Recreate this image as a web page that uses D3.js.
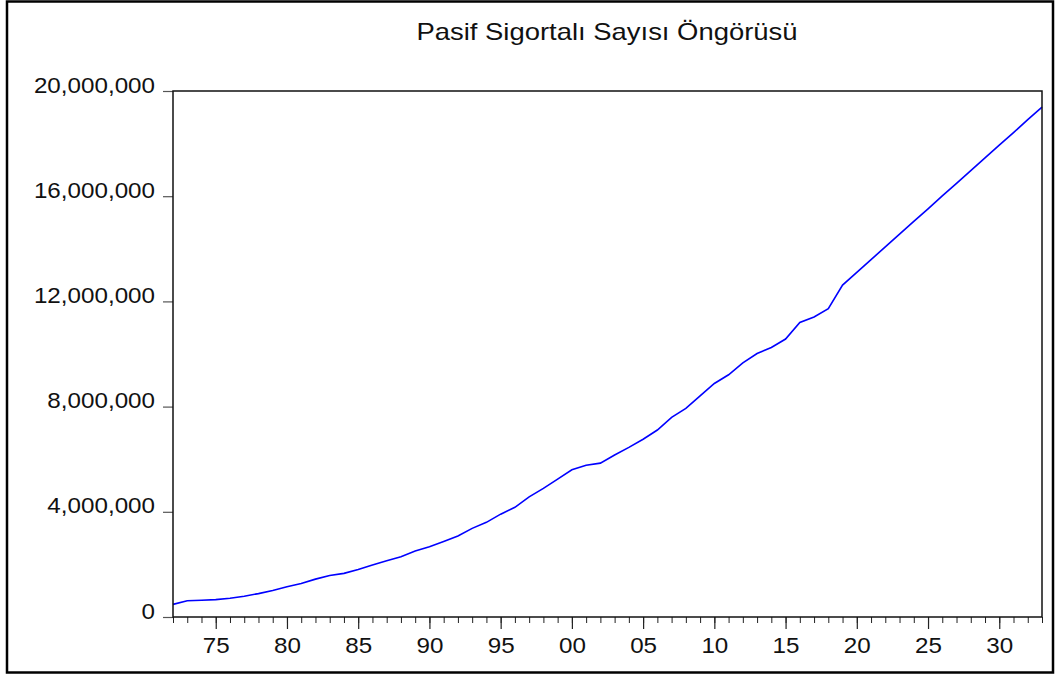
<!DOCTYPE html>
<html>
<head>
<meta charset="utf-8">
<script src="https://cdn.jsdelivr.net/npm/d3@7"></script>
<style>
  body { margin: 0; background: #fff; }
  text { font-family: "Liberation Sans", Arial, sans-serif; fill: #111; }
</style>
</head>
<body>
<div id="chart"></div>
<script>
// data (values in persons)
var years = [1972, 1973, 1974, 1975, 1976, 1977, 1978, 1979, 1980, 1981,
  1982, 1983, 1984, 1985, 1986, 1987, 1988, 1989, 1990, 1991,
  1992, 1993, 1994, 1995, 1996, 1997, 1998, 1999, 2000, 2001,
  2002, 2003, 2004, 2005, 2006, 2007, 2008, 2009, 2010, 2011,
  2012, 2013, 2014, 2015, 2016, 2017, 2018, 2019, 2020, 2021,
  2022, 2023, 2024, 2025, 2026, 2027, 2028, 2029, 2030, 2031,
  2032, 2033];
var pasif = [480000, 620000, 635000, 660000, 710000, 790000, 890000, 1010000, 1150000, 1270000,
  1440000, 1580000, 1660000, 1810000, 1980000, 2140000, 2290000, 2510000, 2670000, 2870000,
  3080000, 3370000, 3600000, 3910000, 4170000, 4570000, 4890000, 5240000, 5600000, 5770000,
  5850000, 6160000, 6450000, 6760000, 7110000, 7590000, 7930000, 8410000, 8880000, 9210000,
  9660000, 10020000, 10250000, 10570000, 11200000, 11410000, 11720000, 12620000, 13100000, 13590000,
  14070000, 14560000, 15040000, 15520000, 16010000, 16490000, 16970000, 17460000, 17940000, 18420000,
  18910000, 19390000];
var yTicks = [0, 4000000, 8000000, 12000000, 16000000, 20000000];
var majorYears = [1975, 1980, 1985, 1990, 1995, 2000, 2005, 2010, 2015, 2020, 2025, 2030];
var titleText = "Pasif Sigortalı Sayısı Öngörüsü";

// svg size
var svgWidth = 1055;
var svgHeight = 677;
var margin = { top: 91, right: 13, bottom: 60, left: 173 };
var width = svgWidth - margin.left - margin.right;
var height = svgHeight - margin.top - margin.bottom;

// text in the picture is a bit wider than Liberation Sans
var stretch = 1.1;
function widen(sel, factor) {
  sel.each(function() {
    var w = this.getComputedTextLength();
    d3.select(this)
      .attr("textLength", w * factor)
      .attr("lengthAdjust", "spacingAndGlyphs");
  });
}

var svg = d3.select("#chart")
  .append("svg")
  .attr("width", svgWidth)
  .attr("height", svgHeight);

// outer frame
svg.append("rect")
  .attr("x", 7)
  .attr("y", 1.5)
  .attr("width", 1046)
  .attr("height", 671)
  .attr("fill", "none")
  .attr("stroke", "#000")
  .attr("stroke-width", 2.5);

var chartGroup = svg.append("g")
  .attr("transform", `translate(${margin.left}, ${margin.top})`);

// scales
var x = d3.scaleLinear()
  .domain([years[0], years[years.length - 1]])
  .range([0, width]);
var y = d3.scaleLinear()
  .domain([0, 20000000])
  .range([height, 0]);

// x axis: minor tick every year, longer tick every 5 years
var minorAxis = d3.axisBottom(x)
  .tickValues(years)
  .tickSize(6)
  .tickFormat("");
chartGroup.append("g")
  .attr("transform", `translate(0, ${height})`)
  .call(minorAxis)
  .call(g => g.select(".domain").remove())
  .call(g => g.selectAll("line").attr("stroke", "#222").attr("stroke-width", 1));

var majorAxis = d3.axisBottom(x)
  .tickValues(majorYears)
  .tickSize(12)
  .tickPadding(8)
  .tickFormat(d => d3.format("02d")(d % 100));
var xAxis = chartGroup.append("g")
  .attr("transform", `translate(0, ${height})`)
  .call(majorAxis);
xAxis.select(".domain").remove();
xAxis.selectAll("line").attr("stroke", "#222").attr("stroke-width", 1.2);
xAxis.selectAll("text")
  .attr("font-size", 22)
  .attr("fill", "#111");
widen(xAxis.selectAll("text"), stretch);

// y axis
var leftAxis = d3.axisLeft(y)
  .tickValues(yTicks)
  .tickSize(10)
  .tickPadding(8)
  .tickFormat(d3.format(","));
var yAxis = chartGroup.append("g")
  .call(leftAxis);
yAxis.select(".domain").remove();
yAxis.selectAll("line").attr("stroke", "#555").attr("stroke-width", 1.2);
yAxis.selectAll("text")
  .attr("font-size", 22)
  .attr("fill", "#111")
  .attr("dy", "0.05em");
widen(yAxis.selectAll("text"), stretch);

// the line
var line = d3.line()
  .x((d, i) => x(years[i]))
  .y(d => y(d));
chartGroup.append("path")
  .datum(pasif)
  .attr("d", line)
  .attr("fill", "none")
  .attr("stroke", "#0000ff")
  .attr("stroke-width", 1.6);

// plot frame
chartGroup.append("rect")
  .attr("width", width)
  .attr("height", height)
  .attr("fill", "none")
  .attr("stroke", "#111")
  .attr("stroke-width", 1.5);

// title
var title = svg.append("text")
  .attr("x", 607)
  .attr("y", 40)
  .attr("text-anchor", "middle")
  .attr("font-size", 24)
  .text(titleText);
widen(title, 381 / title.node().getComputedTextLength());
</script>
</body>
</html>
